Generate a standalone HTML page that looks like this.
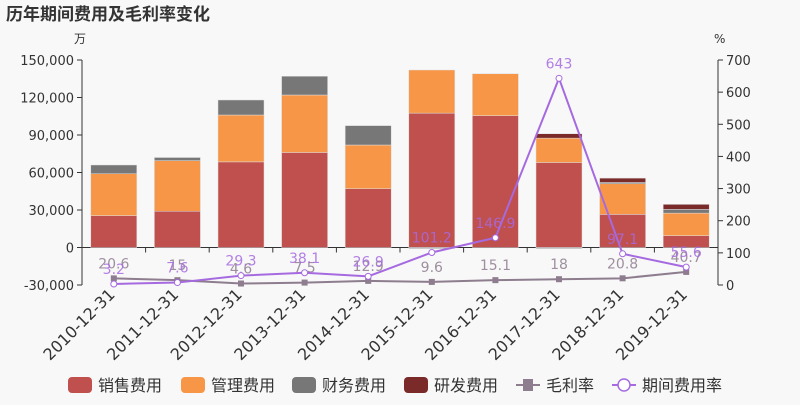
<!DOCTYPE html>
<html><head><meta charset="utf-8">
<style>
body{margin:0;background:#f8f8f8;font-family:"Liberation Sans","Noto Sans CJK SC",sans-serif;}
svg text{font-family:"DejaVu Sans","Noto Sans CJK SC",sans-serif;}
</style></head>
<body>
<svg id="chart" width="800" height="400" xmlns="http://www.w3.org/2000/svg">
<rect width="800" height="400" fill="#f8f8f8"/>
<text x="6" y="20" font-size="17" font-weight="bold" fill="#333">历年期间费用及毛利率变化</text>
<text x="74" y="43" font-size="12" fill="#333">万</text>
<text x="714" y="43" font-size="12" fill="#333">%</text>
<g id="axes"></g><g id="bars"></g><g id="lines"></g><g id="legend"></g>
</svg>
<script>
const categories=["2010-12-31","2011-12-31","2012-12-31","2013-12-31","2014-12-31","2015-12-31","2016-12-31","2017-12-31","2018-12-31","2019-12-31"];
const sales=[25500,29000,68500,76000,47000,107500,105500,68000,26500,9500];
const mgmt=[33500,40500,37500,46000,35000,34500,33500,19500,24500,18000];
const finance=[7000,2500,12000,15000,15500,-500,0,-500,1000,3000];
const rnd=[0,0,0,0,0,0,0,3500,3500,4000];
const grossMargin=[20.6,15,4.6,7.5,12.9,9.6,15.1,18,20.8,40.7];
const periodRate=[3.2,7.6,29.3,38.1,26.9,101.2,146.9,643,97.1,55.6];
const leftTicks=[-30000,0,30000,60000,90000,120000,150000];
const rightTicks=[0,100,200,300,400,500,600,700];

const NS="http://www.w3.org/2000/svg";
const X0=82,X1=718,YT=60,YB=285;
const yL=v=>YB-(v+30000)/180000*(YB-YT);
const yR=v=>YB-v/700*(YB-YT);
const band=(X1-X0)/categories.length;
const xC=i=>X0+band*(i+0.5);
function mk(tag,attrs,parent,txt){const e=document.createElementNS(NS,tag);for(const k in attrs)e.setAttribute(k,attrs[k]);if(txt!==undefined)e.textContent=txt;parent.appendChild(e);return e;}
const axes=document.getElementById('axes'),bars=document.getElementById('bars'),lines=document.getElementById('lines'),legend=document.getElementById('legend');
// axes
let e=mk('line',{x1:X0,x2:X0,y1:YT,y2:YB,stroke:'#333'},axes);


e=mk('line',{x1:X1,x2:X1,y1:YT,y2:YB,stroke:'#333'},axes);


e=mk('line',{x1:X0,x2:X1,y1:yL(0),y2:yL(0),stroke:'#333'},axes);


leftTicks.forEach(t=>{mk('line',{x1:X0-5,x2:X0,y1:yL(t),y2:yL(t),stroke:'#333'},axes);
 e=mk('text',{x:X0-8,y:yL(t)+5,'text-anchor':'end','font-size':13,fill:'#333'},axes,t.toLocaleString('en-US'));
 
 });
rightTicks.forEach(t=>{mk('line',{x1:X1,x2:X1+5,y1:yR(t),y2:yR(t),stroke:'#333'},axes);
 e=mk('text',{x:X1+8,y:yR(t)+5,'font-size':13,fill:'#333'},axes,String(t));
 
 });
categories.forEach((c,i)=>{const x=X0+band*i;mk('line',{x1:x,x2:x,y1:yL(0),y2:yL(0)+5,stroke:'#333'},axes);
 const tx=xC(i)+2,ty=yL(0)+48;
 e=mk('text',{x:tx,y:ty,'text-anchor':'end','font-size':16,fill:'#333',transform:`rotate(-45 ${tx} ${ty})`},axes,c);
 
 });
mk('line',{x1:X1,x2:X1,y1:yL(0),y2:yL(0)+5,stroke:'#333'},axes);
// bars
const series=[[sales,'#c0504d','sales-bar'],[mgmt,'#f79646','mgmt-bar'],[finance,'#777777','finance-bar'],[rnd,'#7b2a2a','rnd-bar']];
const bw=46;
categories.forEach((c,i)=>{let pos=0,neg=0;
 series.forEach(([arr,col,nm])=>{const v=arr[i];if(!v)return;let a,b;
  if(v>=0){a=pos;b=pos+v;pos=b;}else{a=neg;b=neg+v;neg=b;}
  const y1=yL(Math.max(a,b)),y2=yL(Math.min(a,b));
  e=mk('rect',{x:xC(i)-bw/2,y:y1,width:bw,height:Math.max(y2-y1,1),fill:col,stroke:'#ddd','stroke-width':0.5},bars);
  
  });});
// lines
function drawLine(arr,col,nm,square){
 mk('polyline',{points:arr.map((v,i)=>xC(i)+','+yR(v)).join(' '),fill:'none',stroke:col,'stroke-width':2},lines);
 arr.forEach((v,i)=>{
  if(square)e=mk('rect',{x:xC(i)-3,y:yR(v)-3,width:6,height:6,fill:col},lines);
  else e=mk('circle',{cx:xC(i),cy:yR(v),r:3,fill:'#fff',stroke:col},lines);
  
  
  e=mk('text',{x:xC(i),y:yR(v)-10,'text-anchor':'middle','font-size':14,fill:col,'fill-opacity':0.85},lines,String(v));
  
  });}
drawLine(grossMargin,'#8e7d8e','gross-margin',true);
drawLine(periodRate,'#a66ae0','period-rate',false);
// legend
const leg=[['销售费用','#c0504d',68,'rect'],['管理费用','#f79646',181,'rect'],['财务费用','#777777',292,'rect'],['研发费用','#7b2a2a',404,'rect'],['毛利率','#8e7d8e',516,'sq'],['期间费用率','#a66ae0',612,'circ']];
leg.forEach(([t,col,x,k])=>{const g=mk('g',{},legend);
 
 
 const cy=385;
 if(k==='rect')mk('rect',{x:x,y:cy-8,width:24,height:16,rx:4,fill:col},g);
 else{mk('line',{x1:x,x2:x+24,y1:cy,y2:cy,stroke:col,'stroke-width':2},g);
  if(k==='sq')mk('rect',{x:x+7,y:cy-6,width:10,height:12,fill:col},g);
  else mk('circle',{cx:x+12,cy:cy,r:6,fill:'#fff',stroke:col,'stroke-width':1.5},g);}
 mk('text',{x:x+30,y:cy+6,'font-size':16,fill:'#333'},g,t);});
</script>
</body></html>
